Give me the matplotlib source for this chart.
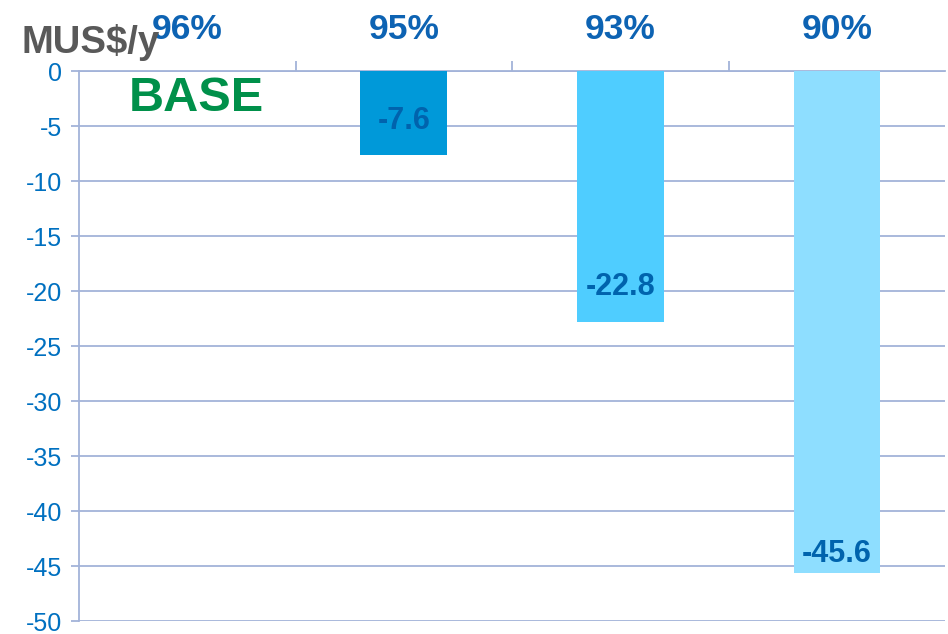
import matplotlib.pyplot as plt
from matplotlib.ticker import FixedLocator

categories = ["96%", "95%", "93%", "90%"]
values = [0, -7.6, -22.8, -45.6]
value_labels = ["", "-7.6", "-22.8", "-45.6"]
bar_colors = ["#FFFFFF", "#0099D9", "#4FCDFF", "#8EDEFF"]
label_offsets = [0, 3.1, 3.2, 1.7]
y_ticks = list(range(0, -55, -5))

plt.rcParams["font.family"] = ["Liberation Sans", "DejaVu Sans"]

fig = plt.figure(figsize=(9.48, 6.34), dpi=100)
ax = fig.add_axes([0.0833, 0.02, 0.9137, 0.868])

grid_color = "#A3B3D9"
x = list(range(len(categories)))
ax.bar(x[1:], values[1:], width=0.4, color=bar_colors[1:], zorder=3)

for xi, v, lab, off in zip(x, values, value_labels, label_offsets):
    if lab:
        ax.text(xi, v + off, lab, ha="center", va="center", fontsize=22,
                fontweight="bold", color="#0063AD", zorder=4)

ax.text(0.04, -2.5, "BASE", ha="center", va="center", fontsize=35,
        fontweight="bold", color="#00904A")

ax.set_xlim(-0.5, 3.5)
ax.set_ylim(-50, 0)
ax.set_yticks(y_ticks)
ax.set_yticklabels([str(t) for t in y_ticks])
ax.yaxis.grid(True, color=grid_color, linewidth=1.3, zorder=0)
ax.set_axisbelow(True)

ax.xaxis.tick_top()
ax.set_xticks(x)
ax.set_xticklabels(categories)
ax.xaxis.set_minor_locator(FixedLocator([0.5, 1.5, 2.5]))
ax.tick_params(axis="x", which="major", length=0, pad=18, labelsize=25.5,
               labelcolor="#0D63B3")
for t in ax.get_xticklabels():
    t.set_fontweight("bold")
ax.tick_params(axis="x", which="minor", length=7, width=1.3, color=grid_color,
               direction="out", top=True, bottom=False)
ax.tick_params(axis="y", length=6, width=1.3, color=grid_color, pad=6,
               labelsize=18, labelcolor="#0070C0")

for side in ["right", "bottom"]:
    ax.spines[side].set_visible(False)
ax.spines["left"].set_color(grid_color)
ax.spines["left"].set_linewidth(1.3)
ax.spines["top"].set_color(grid_color)
ax.spines["top"].set_linewidth(1.3)

fig.text(0.023, 0.962, "MUS$/y", ha="left", va="top", fontsize=27.5,
         fontweight="bold", color="#595959")

fig.savefig("out.png", dpi=100)
